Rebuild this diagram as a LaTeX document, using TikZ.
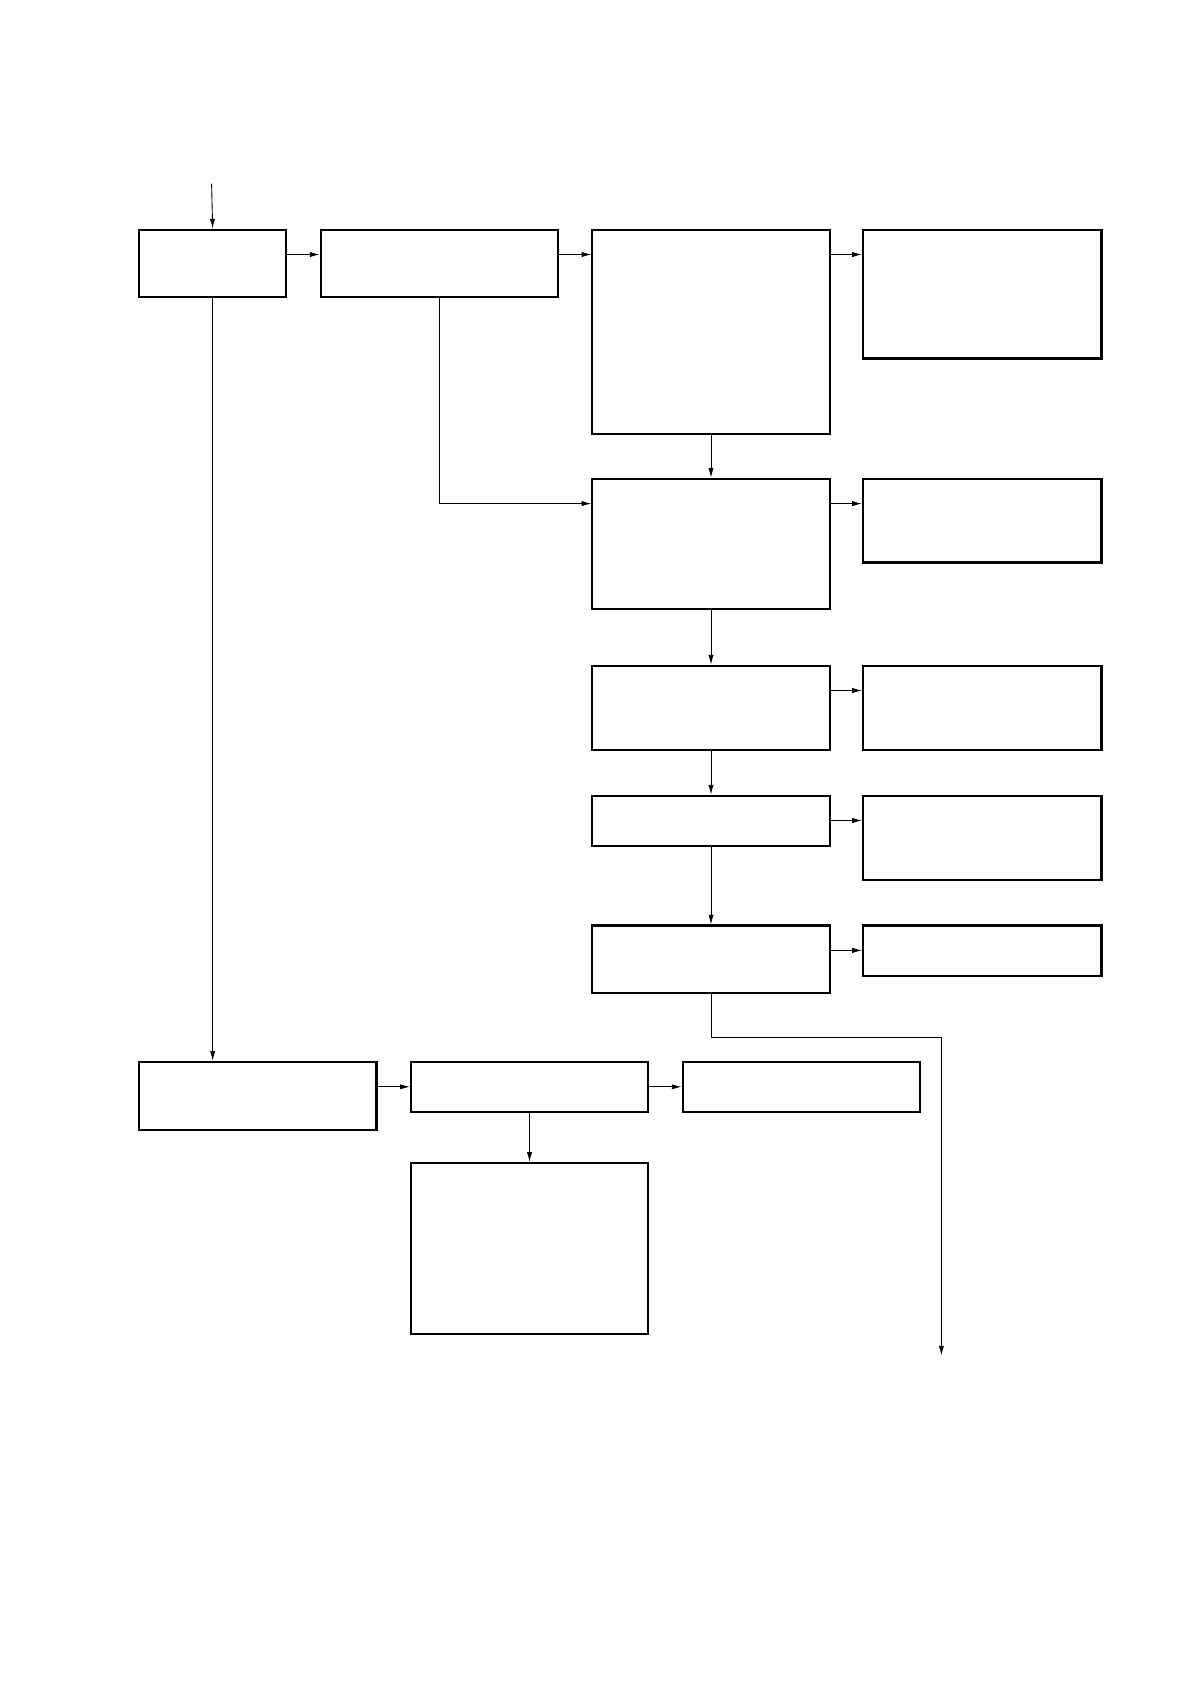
\documentclass[tikz,border=0pt]{standalone}
\usepackage{tikz}
\usetikzlibrary{arrows.meta, positioning, calc}

\begin{document}
\begin{tikzpicture}[
    x=0.02cm, y=-0.02cm,
    blk/.style 2 args={draw, line width=1.2pt, anchor=north west, inner sep=0pt, minimum width=#1*0.02cm, minimum height=#2*0.02cm},
    arr/.style={-{Latex[length=5.5pt,width=3pt]}, line width=0.5pt},
    hop/.style={yshift=-0.52cm}
  ]
    \useasboundingbox (0,0) rectangle (1190,1684);
    % top row
    \node[blk={147.2}{67.7}] (a) at (138,228.5) {};
    \node[blk={237.4}{67.7}] (b) at (319.5,228.5) {};
    \node[blk={237.3}{204}] (c) at (591.3,228.5) {};
    \node[blk={238.5}{128.9}] (d) at (861.9,228.5) {};
    % middle column and right column
    \node[blk={237.3}{130}] (e) at (591.3,477.6) {};
    \node[blk={238.5}{83.8}] (f) at (861.9,477.6) {};
    \node[blk={237.3}{84.8}] (g) at (591.3,664.5) {};
    \node[blk={238.5}{84.8}] (h) at (861.9,664.5) {};
    \node[blk={237.3}{50.5}] (i) at (591.3,794.5) {};
    \node[blk={238.5}{84.8}] (j) at (861.9,794.5) {};
    \node[blk={237.3}{67.7}] (k) at (591.3,924.4) {};
    \node[blk={238.5}{50.5}] (l) at (861.9,924.4) {};
    % bottom group
    \node[blk={237.4}{67.7}] (m) at (138,1060.8) {};
    \node[blk={237.3}{50.5}] (n) at (409.8,1060.8) {};
    \node[blk={237.3}{50.5}] (o) at (681.5,1060.8) {};
    \node[blk={237.3}{170.7}] (p) at (409.8,1161.8) {};
    \coordinate (in) at (211.6,183.7);
    \coordinate (bend) at (941.4,1037.5);
    \coordinate (out) at (941.4,1355.4);
    \draw[arr] (in) -- (a.north);
    \draw[arr] ([hop]a.north east) -- ([hop]b.north west);
    \draw[arr] ([hop]b.north east) -- ([hop]c.north west);
    \draw[arr] ([hop]c.north east) -- ([hop]d.north west);
    \draw[arr] (b.south) |- ([hop]e.north west);
    \draw[arr] (c.south) -- (e.north);
    \draw[arr] ([hop]e.north east) -- ([hop]f.north west);
    \draw[arr] (e.south) -- (g.north);
    \draw[arr] ([hop]g.north east) -- ([hop]h.north west);
    \draw[arr] (g.south) -- (i.north);
    \draw[arr] ([hop]i.north east) -- ([hop]j.north west);
    \draw[arr] (i.south) -- (k.north);
    \draw[arr] ([hop]k.north east) -- ([hop]l.north west);
    \draw[arr] (k.south) |- (bend) -- (out);
    \draw[arr] (a.south) -- (a.south |- m.north);
    \draw[arr] ([hop]m.north east) -- ([hop]n.north west);
    \draw[arr] ([hop]n.north east) -- ([hop]o.north west);
    \draw[arr] (n.south) -- (p.north);
  \end{tikzpicture}
\end{document}
